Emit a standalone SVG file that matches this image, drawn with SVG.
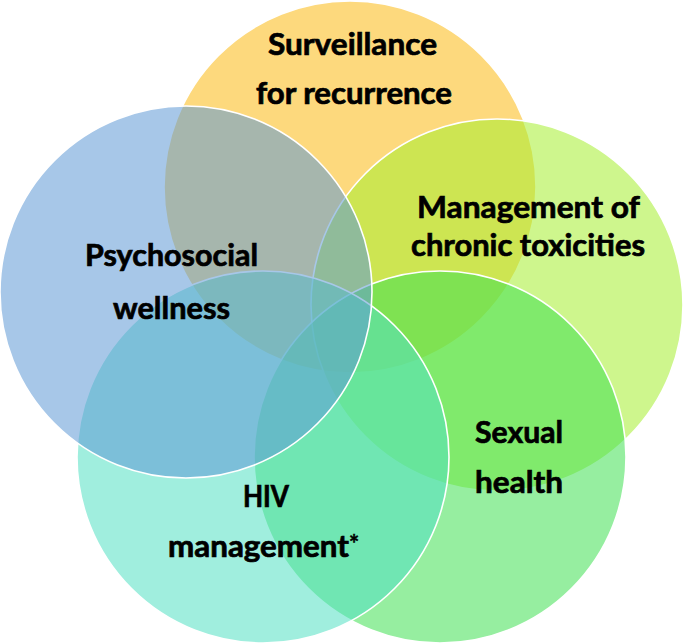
<svg xmlns="http://www.w3.org/2000/svg" width="685" height="644" viewBox="0 0 685 644">
<style>
.c{fill-opacity:0.55;stroke:#ffffff;stroke-width:1.6}
.t{font-family:Lato,"Liberation Sans",sans-serif;font-weight:bold;font-size:30px;fill:#000000;stroke:#000000;stroke-width:0.7}
.s{font-family:Lato,"Liberation Sans",sans-serif;font-weight:bold;font-size:24px;fill:#000000;stroke:#000000;stroke-width:0.5}
</style>
<rect width="685" height="644" fill="#ffffff"/>
<g id="surveillance">
<circle class="c" cx="350" cy="187" r="186" fill="#FBBA13"/>
<text class="t" x="268" y="55" textLength="169" lengthAdjust="spacingAndGlyphs">Surveillance</text>
<text class="t" x="256" y="104" textLength="196" lengthAdjust="spacingAndGlyphs">for recurrence</text>
</g>
<g id="chronic-toxicities">
<circle class="c" cx="497" cy="305" r="186" fill="#A6EF30"/>
<text class="t" x="417" y="218" textLength="223" lengthAdjust="spacingAndGlyphs">Management of</text>
<text class="t" x="411" y="256" textLength="234" lengthAdjust="spacingAndGlyphs">chronic toxicities</text>
</g>
<g id="sexual-health">
<circle class="c" cx="440" cy="457" r="186" fill="#40E052"/>
<text class="t" x="475" y="443" textLength="88" lengthAdjust="spacingAndGlyphs">Sexual</text>
<text class="t" x="475" y="493" textLength="88" lengthAdjust="spacingAndGlyphs">health</text>
</g>
<g id="hiv-management">
<circle class="c" cx="263" cy="457" r="186" fill="#52E0C3"/>
<text class="t" x="243" y="507" textLength="46" lengthAdjust="spacingAndGlyphs">HIV</text>
<text class="t" x="168" y="557" textLength="181" lengthAdjust="spacingAndGlyphs">management</text>
<text class="s" x="349" y="553">*</text>
</g>
<g id="psychosocial-wellness">
<circle class="c" cx="186" cy="292" r="186" fill="#5F99D5"/>
<text class="t" x="85" y="266" textLength="173" lengthAdjust="spacingAndGlyphs">Psychosocial</text>
<text class="t" x="113" y="319" textLength="117" lengthAdjust="spacingAndGlyphs">wellness</text>
</g>
<g id="connectors"></g>
</svg>
